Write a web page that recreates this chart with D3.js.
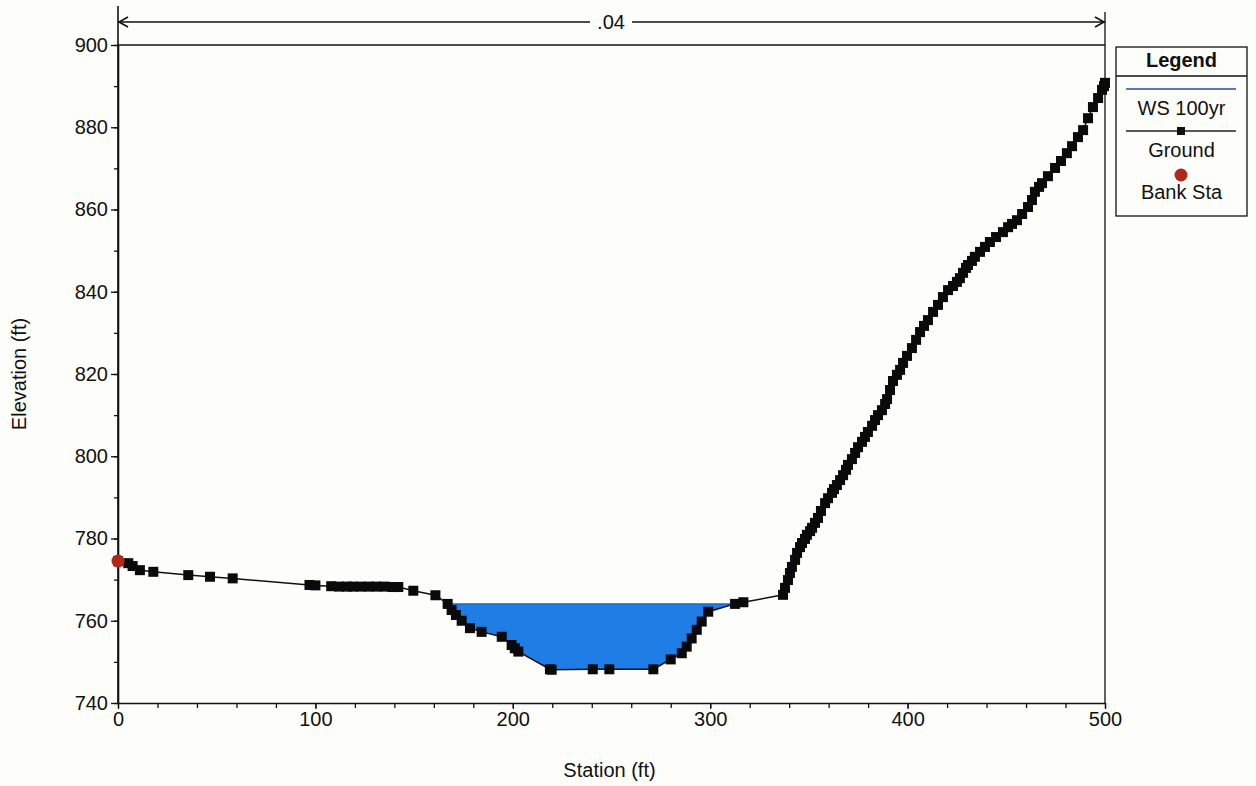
<!DOCTYPE html>
<html>
<head>
<meta charset="utf-8">
<script src="https://cdn.jsdelivr.net/npm/d3@7/dist/d3.min.js"></script>
<style>
  html, body { margin: 0; padding: 0; background: #fdfdfa; }
  svg { display: block; font-family: "Liberation Sans", Arial, sans-serif; }
</style>
</head>
<body>
<svg id="chart" width="1256" height="786"></svg>
<script>
// Cross-section survey: station (ft) and ground elevation (ft)
const groundStation = [
  0, 5.2, 7.4, 11.1, 17.9, 35.6, 46.6, 58.1, 97, 100,
  108, 112, 116, 119, 123, 127, 131, 135, 139, 142,
  149.6, 160.8, 167, 169, 171.2, 174.1, 178.3, 184.2, 194.4, 199.4,
  201, 202.8, 218.8, 219.7, 240.5, 248.9, 271.2, 280, 285.6, 288.1,
  290.6, 293.2, 295.7, 299, 312.6, 316.8,
  336.9, 337.9, 339.4, 340.4, 341.4, 343.0, 344.0, 345.5, 346.5, 348.0,
  349.0, 350.6, 351.6, 353.1, 354.6, 356.1, 358.2, 359.7, 361.7, 362.7,
  364.2, 365.8, 367.3, 368.8, 369.8, 371.8, 373.4, 374.9, 376.9, 378.4,
  379.9, 382.0, 383.5, 385.0, 387.0, 388.6, 389.6, 391.1, 392.6, 394.6,
  396.2, 397.7, 399.7, 402.2, 404.3, 406.3, 408.3, 410.3, 412.9, 415.4,
  417.9, 420.5, 423.0, 425.0, 426.5, 428.1, 429.6, 430.6, 432.6, 434.1,
  436.7, 439.2, 441.7, 444.8, 448.3, 450.9, 452.9, 455.4, 458.0, 461.0,
  463.0, 464.5, 466.6, 468.1, 471.1, 474.7, 477.7, 480.7, 483.3, 486.3,
  488.9, 491.4, 493.9, 496.5, 498.5, 499.5, 500
];
const groundElev = [
  774.5, 774.0, 773.3, 772.3, 771.9, 771.1, 770.7, 770.3, 768.7, 768.6,
  768.4, 768.3, 768.3, 768.3, 768.3, 768.3, 768.3, 768.3, 768.2, 768.2,
  767.3, 766.2, 764.1, 762.6, 761.4, 760.0, 758.2, 757.3, 756.1, 754.1,
  753.3, 752.5, 748.2, 748.1, 748.2, 748.2, 748.2, 750.6, 752.1, 753.7,
  755.7, 757.8, 759.8, 762.2, 764.1, 764.5,
  766.3, 768.0, 769.9, 771.6, 773.1, 774.8, 776.5, 777.9, 778.9, 779.9,
  780.9, 781.8, 782.6, 783.8, 785.0, 786.7, 788.6, 789.8, 791.1, 792.0,
  793.0, 794.2, 795.4, 796.7, 797.9, 799.3, 800.8, 802.2, 803.5, 804.7,
  805.9, 807.4, 808.8, 810.0, 811.2, 812.7, 813.9, 816.1, 818.3, 819.8,
  821.0, 822.7, 824.4, 826.3, 828.3, 830.2, 831.7, 833.1, 835.1, 836.8,
  838.7, 840.4, 841.4, 842.4, 843.3, 844.6, 845.8, 846.5, 847.5, 848.5,
  849.7, 850.9, 852.1, 853.3, 854.5, 855.7, 856.5, 857.4, 858.9, 860.6,
  862.3, 864.3, 865.5, 866.4, 868.1, 870.1, 871.8, 873.7, 875.4, 877.6,
  879.3, 882.2, 884.9, 887.1, 889.1, 890.0, 890.8
];
const wsElev = 764.1;                 // WS 100yr
const bankStation = [0];
const bankElev = [774.5];
const manningN = ".04";
const yTicks = [740, 760, 780, 800, 820, 840, 860, 880, 900];
const xTicks = [0, 100, 200, 300, 400, 500];
const legendLabels = ["WS 100yr", "Ground", "Bank Sta"];

const svg = d3.select("#chart");
const x = d3.scaleLinear().domain([0, 500]).range([118, 1105]);
const y = d3.scaleLinear().domain([740, 900]).range([703, 45]);

const ground = groundStation.map((s, i) => ({ s, e: groundElev[i] }));

// ---- water polygon: ground below the water surface, clipped at the crossings
function crossing(a, b, e) {
  const t = (e - a.e) / (b.e - a.e);
  return { s: a.s + t * (b.s - a.s), e };
}
const wet = [];
for (let i = 0; i < ground.length - 1; i++) {
  const a = ground[i], b = ground[i + 1];
  if (a.e <= wsElev) wet.push(a);
  if ((a.e - wsElev) * (b.e - wsElev) < 0) wet.push(crossing(a, b, wsElev));
}
if (wet.length > 2) {
  svg.append("path")
    .attr("d", d3.line().x(d => x(d.s)).y(d => y(d.e))(wet) + "Z")
    .attr("fill", "#1f7de6");
  svg.append("line")
    .attr("x1", x(wet[0].s)).attr("x2", x(wet[wet.length - 1].s))
    .attr("y1", y(wsElev)).attr("y2", y(wsElev))
    .attr("stroke", "#1b5fc4").attr("stroke-width", 1.2);
}

// ---- frame
svg.append("line").attr("x1", x(0)).attr("x2", x(500)).attr("y1", y(900)).attr("y2", y(900))
  .attr("stroke", "#111").attr("stroke-width", 1.3);
svg.append("line").attr("x1", x(500)).attr("x2", x(500)).attr("y1", 12).attr("y2", y(740))
  .attr("stroke", "#111").attr("stroke-width", 1.3);
svg.append("line").attr("x1", x(0)).attr("x2", x(0)).attr("y1", 6).attr("y2", y(740))
  .attr("stroke", "#111").attr("stroke-width", 1.6);

// ---- Manning's n annotation
const nY = 22;
const gapL = 590, gapR = 632;
svg.append("line").attr("x1", x(0)).attr("x2", gapL).attr("y1", nY).attr("y2", nY).attr("stroke", "#111").attr("stroke-width", 1.3);
svg.append("line").attr("x1", gapR).attr("x2", x(500)).attr("y1", nY).attr("y2", nY).attr("stroke", "#111").attr("stroke-width", 1.3);
svg.append("path")
  .attr("d", `M${x(0) + 10},${nY - 5}L${x(0) + 1},${nY}L${x(0) + 10},${nY + 5}`)
  .attr("fill", "none").attr("stroke", "#111").attr("stroke-width", 1.6);
svg.append("path")
  .attr("d", `M${x(500) - 10},${nY - 5}L${x(500) - 1},${nY}L${x(500) - 10},${nY + 5}`)
  .attr("fill", "none").attr("stroke", "#111").attr("stroke-width", 1.6);
svg.append("text").attr("x", (gapL + gapR) / 2).attr("y", nY + 7)
  .attr("text-anchor", "middle").attr("font-size", 20).attr("fill", "#111").text(manningN);

// ---- axes
function styleAxis(g) {
  g.selectAll("path.domain").attr("stroke", "#111").attr("stroke-width", 1.6);
  g.selectAll(".tick line").attr("stroke", "#111").attr("stroke-width", 1.3);
  g.selectAll(".tick text").attr("fill", "#111").attr("font-size", 20)
    .attr("font-family", "'Liberation Sans', Arial, sans-serif");
}
const yMinor = d3.range(740, 901, 10);
const xMinor = d3.range(0, 501, 20);

svg.append("g").attr("transform", `translate(${x(0)},0)`)
  .call(d3.axisLeft(y).tickValues(yMinor).tickSize(4).tickFormat(""))
  .call(g => g.select(".domain").remove())
  .call(styleAxis);
svg.append("g").attr("transform", `translate(${x(0)},0)`)
  .call(d3.axisLeft(y).tickValues(yTicks).tickSize(7).tickSizeOuter(0).tickPadding(3).tickFormat(d3.format("d")))
  .call(styleAxis);

svg.append("g").attr("transform", `translate(0,${y(740)})`)
  .call(d3.axisBottom(x).tickValues(xMinor).tickSize(5).tickFormat(""))
  .call(g => g.select(".domain").remove())
  .call(styleAxis);
svg.append("g").attr("transform", `translate(0,${y(740)})`)
  .call(d3.axisBottom(x).tickValues(xTicks).tickSize(6).tickSizeOuter(0).tickPadding(3).tickFormat(d3.format("d")))
  .call(styleAxis);

svg.append("text")
  .attr("transform", `translate(26,${(y(740) + y(900)) / 2}) rotate(-90)`)
  .attr("text-anchor", "middle").attr("font-size", 20).attr("fill", "#111")
  .text("Elevation (ft)");
svg.append("text")
  .attr("x", (x(0) + x(500)) / 2 - 2).attr("y", 777)
  .attr("text-anchor", "middle").attr("font-size", 20).attr("fill", "#111")
  .text("Station (ft)");

// ---- ground line and markers
svg.append("path")
  .datum(ground)
  .attr("d", d3.line().x(d => x(d.s)).y(d => y(d.e)))
  .attr("fill", "none").attr("stroke", "#111").attr("stroke-width", 1.5);
const mk = 10;
svg.append("g").selectAll("rect").data(ground).join("rect")
  .attr("x", d => x(d.s) - mk / 2).attr("y", d => y(d.e) - mk / 2)
  .attr("width", mk).attr("height", mk).attr("fill", "#0a0a0a");

// ---- bank stations
svg.append("g").selectAll("circle").data(bankStation.map((s, i) => ({ s, e: bankElev[i] }))).join("circle")
  .attr("cx", d => x(d.s)).attr("cy", d => y(d.e)).attr("r", 6.5).attr("fill", "#b3261a");

// ---- legend
const lg = svg.append("g");
const lx = 1116, lw = 131, ly = 47, lh = 169;
lg.append("rect").attr("x", lx).attr("y", ly).attr("width", lw).attr("height", lh)
  .attr("fill", "#fdfdfa").attr("stroke", "#111").attr("stroke-width", 1.3);
lg.append("line").attr("x1", lx).attr("x2", lx + lw).attr("y1", 76).attr("y2", 76)
  .attr("stroke", "#111").attr("stroke-width", 1.3);
const lcx = lx + lw / 2;
lg.append("text").attr("x", lcx).attr("y", 67).attr("text-anchor", "middle")
  .attr("font-size", 20).attr("font-weight", "bold").attr("fill", "#111").text("Legend");
lg.append("line").attr("x1", 1126).attr("x2", 1236).attr("y1", 89).attr("y2", 89)
  .attr("stroke", "#2a4aa0").attr("stroke-width", 1.6);
lg.append("text").attr("x", lcx).attr("y", 115).attr("text-anchor", "middle")
  .attr("font-size", 20).attr("fill", "#111").text(legendLabels[0]);
lg.append("line").attr("x1", 1126).attr("x2", 1236).attr("y1", 131).attr("y2", 131)
  .attr("stroke", "#222").attr("stroke-width", 1.5);
lg.append("rect").attr("x", 1181 - 4).attr("y", 131 - 4).attr("width", 8).attr("height", 8).attr("fill", "#111");
lg.append("text").attr("x", lcx).attr("y", 157).attr("text-anchor", "middle")
  .attr("font-size", 20).attr("fill", "#111").text(legendLabels[1]);
lg.append("circle").attr("cx", 1181).attr("cy", 175).attr("r", 6.5).attr("fill", "#b3261a");
lg.append("text").attr("x", lcx).attr("y", 199).attr("text-anchor", "middle")
  .attr("font-size", 20).attr("fill", "#111").text(legendLabels[2]);
</script>
</body>
</html>
